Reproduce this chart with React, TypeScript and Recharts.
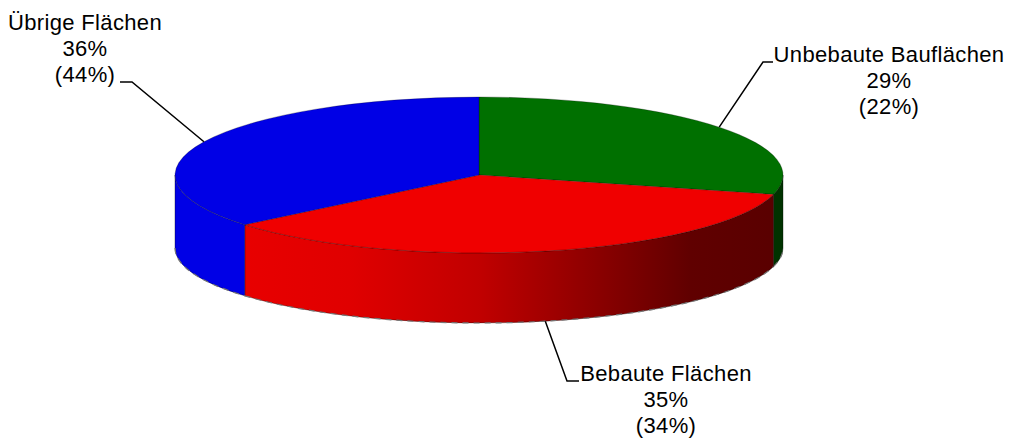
import React from "react";
import { PieChart, Pie } from "recharts";

const categories = ["Unbebaute Bauflächen", "Bebaute Flächen", "Übrige Flächen"];
const shares = [29, 35, 36];
const comparisonShares = [22, 34, 44];

const topColors = ["#007000", "#f00000", "#0000e6"];
const wallFills = ["#003300", "url(#redWall)", "#0000e6"];

const RX = 304;
const RY = 78;
const BOTTOM_RY = 75;
const BOTTOM_DROP = 73;
const FONT = "'Liberation Sans', Arial, sans-serif";

// label offsets relative to the pie centre: elbow, line end, text centre, first baseline
const labelLayout = [
  { elbowX: 284, elbowY: -113, endX: 294, textX: 410, baseY: -113, wall: false },
  { elbowX: 88, elbowY: 206, endX: 100, textX: 187, baseY: 206, wall: true },
  { elbowX: -347, elbowY: -93, endX: -359, textX: -394, baseY: -145, wall: false },
];

const pt = (cx: number, cy: number, deg: number, ry = RY) => {
  const a = (deg * Math.PI) / 180;
  return [cx + RX * Math.cos(a), cy - ry * Math.sin(a)];
};

function Slice(props: any) {
  const { cx, cy, startAngle, endAngle, index } = props;
  const i = index ?? categories.indexOf(props.payload?.name ?? props.name);
  const [x0, y0] = pt(cx, cy, startAngle);
  const [x1, y1] = pt(cx, cy, endAngle);
  const large = Math.abs(startAngle - endAngle) > 180 ? 1 : 0;
  const top = `M${cx},${cy} L${x0},${y0} A${RX},${RY} 0 ${large} 1 ${x1},${y1} Z`;

  const wStart = Math.min(startAngle, 0);
  const wEnd = Math.max(endAngle, -180);
  let wall: React.ReactNode = null;
  let edge: React.ReactNode = null;
  if (wStart > wEnd) {
    const [a0, b0] = pt(cx, cy, wStart);
    const [a1, b1] = pt(cx, cy, wEnd);
    const [c0, d0] = pt(cx, cy + BOTTOM_DROP, wStart, BOTTOM_RY);
    const [c1, d1] = pt(cx, cy + BOTTOM_DROP, wEnd, BOTTOM_RY);
    const lower = `A${RX},${BOTTOM_RY} 0 0 0 ${c0},${d0}`;
    const d = `M${a0},${b0} A${RX},${RY} 0 0 1 ${a1},${b1} L${c1},${d1} ${lower} Z`;
    wall = <path d={d} fill={wallFills[i]} stroke="#000" strokeOpacity={0.35} strokeWidth={1} />;
    edge = (
      <path
        d={`M${c1},${d1} ${lower}`}
        fill="none"
        stroke="#777"
        strokeWidth={1.2}
        strokeDasharray="6 5"
      />
    );
  }
  return (
    <g>
      <defs>
        <linearGradient id="redWall" gradientUnits="userSpaceOnUse" x1={cx - 234} y1={0} x2={cx + 290} y2={0}>
          <stop offset="0" stopColor="#e80000" />
          <stop offset="0.2" stopColor="#e00000" />
          <stop offset="0.45" stopColor="#c00000" />
          <stop offset="0.85" stopColor="#600000" />
          <stop offset="1" stopColor="#5a0000" />
        </linearGradient>
      </defs>
      {wall}
      {edge}
      <path d={top} fill={topColors[i]} stroke="#000" strokeOpacity={0.25} strokeWidth={1} />
    </g>
  );
}

function CalloutLabel(props: any) {
  const { cx, cy, midAngle, index } = props;
  const l = labelLayout[index];
  const [ax, ay] = l.wall ? pt(cx, cy + BOTTOM_DROP, midAngle, BOTTOM_RY) : pt(cx, cy, midAngle);
  const lines = [categories[index], `${shares[index]}%`, `(${comparisonShares[index]}%)`];
  return (
    <g>
      <polyline
        points={`${ax},${ay} ${cx + l.elbowX},${cy + l.elbowY} ${cx + l.endX},${cy + l.elbowY}`}
        fill="none"
        stroke="#000"
        strokeWidth={1.5}
      />
      {lines.map((t, k) => (
        <text
          key={k}
          x={cx + l.textX}
          y={cy + l.baseY + k * 26}
          textAnchor="middle"
          fontFamily={FONT}
          fontSize={22}
          letterSpacing={0.35}
          fill="#000"
        >
          {t}
        </text>
      ))}
    </g>
  );
}

const tableData = categories.map((name, i) => ({ name, value: shares[i] }));

export default function App() {
  return (
    <div style={{ position: "absolute", left: 0, top: 0 }}>
      <PieChart width={1010} height={442} margin={{ top: 0, right: 0, bottom: 0, left: 0 }}>
        <Pie
          data={tableData}
          dataKey="value"
          nameKey="name"
          cx={479}
          cy={175}
          innerRadius={0}
          outerRadius={RX}
          startAngle={90}
          endAngle={-270}
          stroke="none"
          isAnimationActive={false}
          shape={Slice}
          activeShape={Slice}
          inactiveShape={Slice}
          label={CalloutLabel}
          labelLine={false}
        />
      </PieChart>
    </div>
  );
}
